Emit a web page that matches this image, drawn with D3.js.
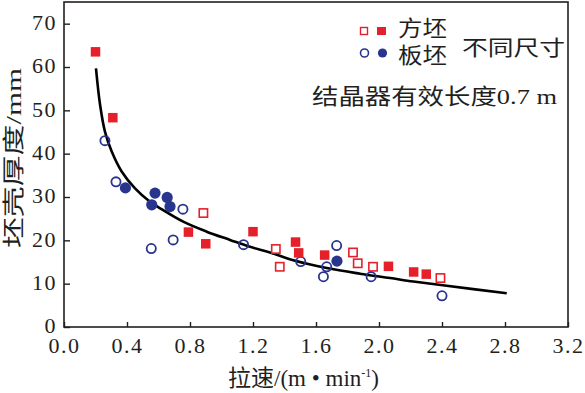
<!DOCTYPE html>
<html><head><meta charset="utf-8">
<script src="https://cdn.jsdelivr.net/npm/d3@7"></script>
<style>body{margin:0;background:#fff}svg{display:block}</style>
</head><body><svg id="c" width="585" height="393"></svg>
<script>
// ---- data ----
const xTicks = [0.0,0.4,0.8,1.2,1.6,2.0,2.4,2.8,3.2];
const yTicks = [0,10,20,30,40,50,60,70];
// 方坯 filled squares
const squareFilled = [[0.20,63.5],[0.31,48.3],[0.79,21.9],[0.90,19.2],[1.20,22.0],[1.47,19.6],[1.49,17.1],[1.655,16.6],[2.06,14.0],[2.22,12.7],[2.30,12.2]];
// 方坯 open squares
const squareOpen = [[0.885,26.3],[1.345,18.0],[1.37,13.9],[1.835,17.2],[1.865,14.7],[1.962,13.9],[2.39,11.3]];
// 板坯 open circles
const circleOpen = [[0.26,43.0],[0.33,33.5],[0.554,18.1],[0.693,20.1],[0.755,27.2],[1.14,19.0],[1.503,15.1],[1.647,11.6],[1.668,13.9],[1.731,18.8],[1.95,11.6],[2.40,7.2]];
// 板坯 filled circles
const circleFilled = [[0.39,32.1],[0.557,28.2],[0.578,30.9],[0.655,29.9],[0.673,27.8],[1.733,15.2]];
// fitted curve, points
const curvePts = [[0.203,59.7],[0.229,51.3],[0.26,45.1],[0.303,40.5],[0.366,35.9],[0.451,32.0],[0.546,28.9],[0.61,27.4],[0.757,24.3],[0.906,22.0],[1.054,20.1],[1.181,18.5],[1.308,17.2],[1.456,15.4],[1.668,13.6],[1.879,12.3],[2.07,11.3],[2.218,10.5],[2.43,9.5],[2.811,7.8]];
const xTitle = "拉速/(m • min";
const yTitle = "坯壳厚度/mm";

// ---- layout ----
const L=64, R=568, T=2, B=327;
const red="#e5202a", blue="#29348e", ink="#231f20";
const svg=d3.select("#c");
const x=d3.scaleLinear().domain([0,3.2]).range([L,R]);
const y=d3.scaleLinear().domain([0,75]).range([B,T]);
const numFont="'Liberation Serif','Times New Roman',serif";
const cjk="'Liberation Serif','Noto Sans CJK SC',serif";

// axes (ticks inward)
const gx=svg.append("g").attr("transform",`translate(0,${B})`)
  .call(d3.axisBottom(x).tickValues(xTicks).tickFormat(d3.format(".1f")).tickSizeInner(-5).tickSizeOuter(0).tickPadding(10));
const gy=svg.append("g").attr("transform",`translate(${L},0)`)
  .call(d3.axisLeft(y).tickValues(yTicks).tickFormat(d3.format("d")).tickSizeInner(-6).tickSizeOuter(0).tickPadding(7));
[gx,gy].forEach(g=>{
  g.select(".domain").remove();
  g.selectAll(".tick line").attr("stroke",ink).attr("stroke-width",1.4);
  g.selectAll(".tick text").attr("fill",ink).style("font-family",numFont).style("font-size","22px").style("letter-spacing","1.5px");
});
gx.selectAll(".tick text").attr("dy","0.71em");
gy.selectAll(".tick text").attr("dy","0.26em");

// frame
svg.append("rect").attr("x",L).attr("y",T).attr("width",R-L).attr("height",B-T)
  .attr("fill","none").attr("stroke",ink).attr("stroke-width",1.6);

// curve
svg.append("path").datum(curvePts)
  .attr("d",d3.line().x(d=>x(d[0])).y(d=>y(d[1])).curve(d3.curveCatmullRom))
  .attr("fill","none").attr("stroke","#000").attr("stroke-width",2.6);

// markers
const s=9.5;
svg.append("g").selectAll("rect").data(squareOpen).join("rect")
  .attr("x",d=>x(d[0])-s/2+0.6).attr("y",d=>y(d[1])-s/2+0.6).attr("width",s-1.2).attr("height",s-1.2)
  .attr("fill","#fff").attr("stroke",red).attr("stroke-width",1.6);
svg.append("g").selectAll("circle").data(circleOpen).join("circle")
  .attr("cx",d=>x(d[0])).attr("cy",d=>y(d[1])).attr("r",4.6)
  .attr("fill","none").attr("stroke",blue).attr("stroke-width",1.8);
svg.append("g").selectAll("circle").data(circleFilled).join("circle")
  .attr("cx",d=>x(d[0])).attr("cy",d=>y(d[1])).attr("r",5.6).attr("fill",blue);
svg.append("g").selectAll("rect").data(squareFilled).join("rect")
  .attr("x",d=>x(d[0])-s/2).attr("y",d=>y(d[1])-s/2).attr("width",s).attr("height",s).attr("fill",red);

// legend
const lg=svg.append("g");
lg.append("rect").attr("x",360.5).attr("y",27.5).attr("width",7).attr("height",7).attr("fill","#fff").attr("stroke",red).attr("stroke-width",1.4);
lg.append("rect").attr("x",377).attr("y",27).attr("width",9).attr("height",8).attr("fill",red);
lg.append("circle").attr("cx",364.5).attr("cy",53).attr("r",4).attr("fill","none").attr("stroke",blue).attr("stroke-width",1.6);
lg.append("circle").attr("cx",382.5).attr("cy",53).attr("r",4.6).attr("fill",blue);
function txt(t,xx,yy,len,size){
  return svg.append("text").attr("x",xx).attr("y",yy).attr("fill",ink)
    .style("font-family",cjk).style("font-size",size+"px")
    .attr("textLength",len).attr("lengthAdjust","spacingAndGlyphs").text(t);
}
txt("方坯",398,36,49,22);
txt("板坯",398,63,49,22);
txt("不同尺寸",462,55,103,21);
txt("结晶器有效长度0.7 m",312,104,245,22);

// axis titles
const xt=svg.append("text").attr("x",228).attr("y",386).attr("fill",ink)
  .style("font-family",cjk).style("font-size","23px");
xt.append("tspan").text(xTitle);
xt.append("tspan").attr("dy",-9).style("font-size","12px").text("-1");
xt.append("tspan").attr("dy",9).text(")");
svg.append("text").attr("transform",`translate(21,158) rotate(-90)`).attr("text-anchor","middle").attr("fill",ink)
  .style("font-family",cjk).style("font-size","22px")
  .attr("textLength",180).attr("lengthAdjust","spacingAndGlyphs").text(yTitle);
</script></body></html>
